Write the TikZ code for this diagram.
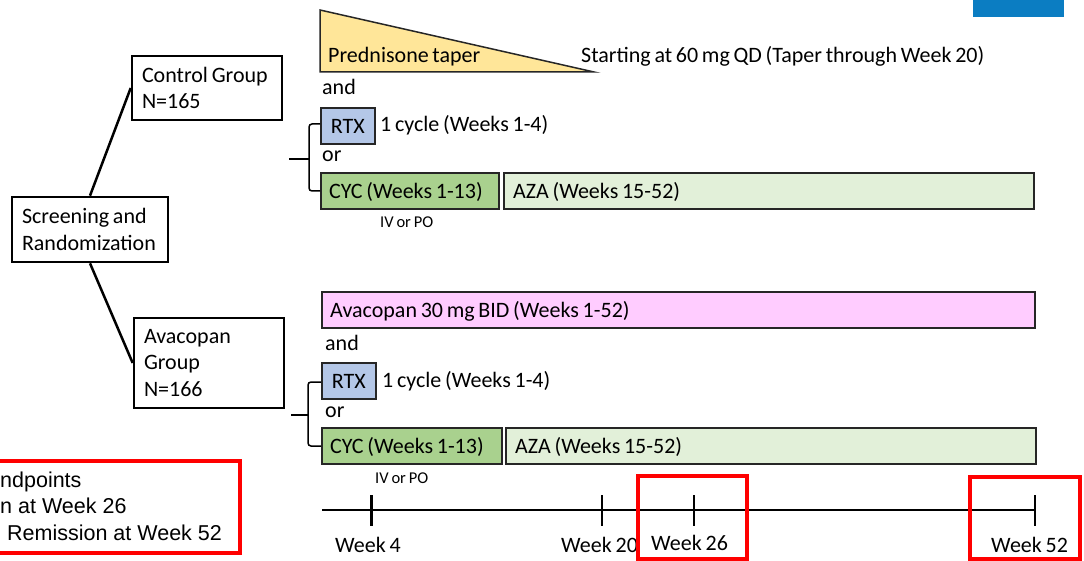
\documentclass[tikz,border=0pt]{standalone}
\usepackage{fontspec}
\setmainfont[WordSpace=0.75]{Carlito}
\newfontfamily\arialfont{Liberation Sans}
\usetikzlibrary{calc}
\definecolor{pred}{HTML}{FFE699}
\definecolor{rtxc}{HTML}{B4C7E7}
\definecolor{cycc}{HTML}{A9D18E}
\definecolor{azac}{HTML}{E2F0D9}
\definecolor{avac}{HTML}{FFCCFF}
\definecolor{logo}{HTML}{0B7DC2}
\definecolor{redc}{HTML}{FF0000}
\begin{document}
\begin{tikzpicture}[x=1pt,y=-1pt,
  txt/.style={font=\fontsize{22}{26}\selectfont, inner sep=0, anchor=base west},
  smalltxt/.style={font=\fontsize{16.5}{19}\selectfont, inner sep=0, anchor=base west},
  endtxt/.style={font=\arialfont\fontsize{21.5}{26}\selectfont, inner sep=0, anchor=base west},
  grp/.style={draw, line width=2.6pt, inner xsep=10pt, inner ysep=0pt, align=left, font=\fontsize{22}{26.5}\selectfont, execute at begin node={\spaceskip=3.8pt\relax}},
  bar/.style={draw=black!85, line width=1.8pt, inner sep=0pt, minimum height=36pt, anchor=north west},
  conn/.style={line width=2.5pt},
  brk/.style={line width=1.5pt, rounded corners=3pt},
  tickline/.style={line width=2.5pt},
  hl/.style={draw=redc, line width=4pt}
]
\useasboundingbox (0,0) rectangle (1084,561);

% logo strip
\fill[logo] (973,0) rectangle (1064,17);

% group boxes
\node[grp, text width=136pt, minimum width=156pt, minimum height=65pt] (scr) at (90,229.5) {Screening and\\Randomization};
\node[grp, text width=130pt, minimum width=150pt, minimum height=64pt] (ctrl) at (207,88) {Control Group\\N=165};
\node[grp, text width=130pt, minimum width=150pt, minimum height=90pt] (ava) at (209,363) {Avacopan\\Group\\N=166};
\draw[conn] (scr.north) -- (ctrl.west);
\draw[conn] (scr.south) -- (ava.west);

% control arm
\draw[fill=pred, draw=black!85, line width=1.5pt] (320,10) -- (320,72) -- (594,72) -- cycle;
\node[txt] (pt) at (328,63) {Prednisone taper};
\node[txt] (start) at (581,63) {Starting at 60 mg QD (Taper through Week 20)};
\node[txt] (and1) at (322,95) {and};
\node[bar, fill=rtxc, minimum width=54pt] (rtx1) at (320,107) {};
\node[txt, anchor=base] at ($(rtx1.center)+(0,7.5)$) {RTX};
\node[txt] (cy1) at (380,132) {1 cycle (Weeks 1-4)};
\node[txt] (or1) at (322,162) {or};
\node[bar, fill=cycc, minimum width=178pt] (cyc1) at (320,172) {};
\node[txt] at ($(cyc1.west)+(9,7.5)$) {CYC (Weeks 1-13)};
\node[bar, fill=azac, minimum width=530pt] (aza1) at (503,172) {};
\node[txt] at ($(aza1.west)+(10,7.5)$) {AZA (Weeks 15-52)};
\node[smalltxt] (iv1) at (380,228) {IV or PO};
\coordinate (s1) at (289,159);
\coordinate (b1) at (309,159);
\draw[brk] (rtx1.west |- 0,124) -- (309,124) -- (309,191) -- (cyc1.west |- 0,191);
\draw[line width=1.5pt] (s1) -- (b1);

% avacopan arm
\node[bar, fill=avac, minimum width=713pt] (avab) at (321,291) {};
\node[txt] at ($(avab.west)+(9,7.5)$) {Avacopan 30 mg BID (Weeks 1-52)};
\node[txt] (and2) at (325,350) {and};
\node[bar, fill=rtxc, minimum width=54pt] (rtx2) at (321,362) {};
\node[txt, anchor=base] at ($(rtx2.center)+(0,7.5)$) {RTX};
\node[txt] (cy2) at (382,387) {1 cycle (Weeks 1-4)};
\node[txt] (or2) at (325,417) {or};
\node[bar, fill=cycc, minimum width=180pt] (cyc2) at (321,427) {};
\node[txt] at ($(cyc2.west)+(9,7.5)$) {CYC (Weeks 1-13)};
\node[bar, fill=azac, minimum width=530pt] (aza2) at (505,427) {};
\node[txt] at ($(aza2.west)+(10,7.5)$) {AZA (Weeks 15-52)};
\node[smalltxt] (iv2) at (375,483) {IV or PO};
\coordinate (s2) at (291,415);
\coordinate (b2) at (308,415);
\draw[brk] (rtx2.west |- 0,382) -- (308,382) -- (308,446) -- (cyc2.west |- 0,446);
\draw[line width=1.5pt] (s2) -- (b2);

% timeline
\coordinate (t0) at (322,510);
\coordinate (t1) at (1035,510);
\draw[conn] (t0) -- (t1);
\foreach \x in {371.5,602,694,1035} \draw[tickline] (\x,495) -- (\x,526);
\node[txt] (w4) at (335,552) {Week 4};
\node[txt] (w20) at (561,552) {Week 20};
\node[txt] (w26) at (651,550) {Week 26};
\node[txt] (w52) at (991,552) {Week 52};

% highlights
\draw[hl] (638,476) rectangle (747,559);
\draw[hl] (970,477) rectangle (1080,559);
\draw[hl] (-10,461) rectangle (240,553);
\node[endtxt] (e1) at (0,487) {ndpoints};
\node[endtxt] (e2) at (0,513) {n at Week 26};
\node[endtxt] (e3) at (7,540) {Remission at Week 52};
\end{tikzpicture}
\end{document}
